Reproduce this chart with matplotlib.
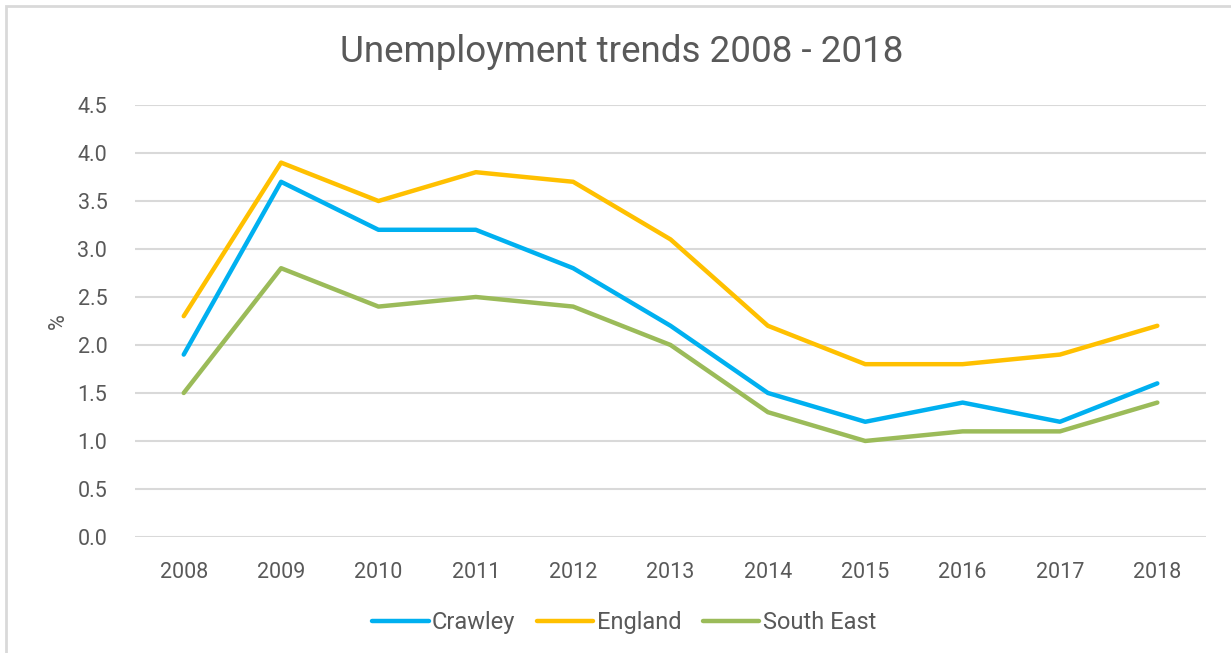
import matplotlib.pyplot as plt
from matplotlib.patches import Rectangle

years = ["2008", "2009", "2010", "2011", "2012", "2013",
         "2014", "2015", "2016", "2017", "2018"]
crawley = [1.9, 3.7, 3.2, 3.2, 2.8, 2.2, 1.5, 1.2, 1.4, 1.2, 1.6]
england = [2.3, 3.9, 3.5, 3.8, 3.7, 3.1, 2.2, 1.8, 1.8, 1.9, 2.2]
south_east = [1.5, 2.8, 2.4, 2.5, 2.4, 2.0, 1.3, 1.0, 1.1, 1.1, 1.4]

series_names = ["Crawley", "England", "South East"]
series_colors = ["#00B0F0", "#FFC000", "#9BBB59"]

text_grey = "#595959"
grid_grey = "#D9D9D9"

plt.rcParams["font.family"] = ["Roboto", "DejaVu Sans"]

fig = plt.figure(figsize=(12.31, 6.53), dpi=100)
ax = fig.add_axes([0.1097, 0.1777, 0.870, 0.6615])

# light frame around the whole chart
fig.patches.append(Rectangle((6 / 1231, -0.05), 1.1, 1.05 - 6 / 653,
                             transform=fig.transFigure, fill=False,
                             edgecolor=grid_grey, linewidth=2))

x = range(len(years))
for values, name, color in zip([crawley, england, south_east],
                               series_names, series_colors):
    ax.plot(x, values, color=color, linewidth=3.2, label=name,
            solid_capstyle="round", solid_joinstyle="round", zorder=3)

ax.set_xlim(-0.5, len(years) - 0.5)
ax.set_ylim(0, 4.5)
ax.set_yticks([i * 0.5 for i in range(10)])
ax.set_yticklabels([f"{i * 0.5:.1f}" for i in range(10)])
ax.set_xticks(list(x))
ax.set_xticklabels(years)

ax.grid(axis="y", color=grid_grey, linewidth=1.5)
ax.set_axisbelow(True)
for side in ["top", "right", "left", "bottom"]:
    ax.spines[side].set_visible(False)
ax.tick_params(axis="both", length=0, labelsize=15.5, colors=text_grey,
               labelcolor=text_grey)
ax.tick_params(axis="y", pad=20)
ax.tick_params(axis="x", pad=18)

ax.set_ylabel("%", fontsize=15.5, color=text_grey, labelpad=6)

fig.text(0.505, 0.92, "Unemployment trends 2008 - 2018", ha="center",
         va="center", fontsize=26.5, color=text_grey)

leg = fig.legend(loc="center", bbox_to_anchor=(0.507, 0.047), ncol=3,
                 frameon=False, fontsize=17, handlelength=2.4,
                 handletextpad=0.15, columnspacing=0.9)
for t in leg.get_texts():
    t.set_color(text_grey)

fig.savefig("out.png", dpi=100)
